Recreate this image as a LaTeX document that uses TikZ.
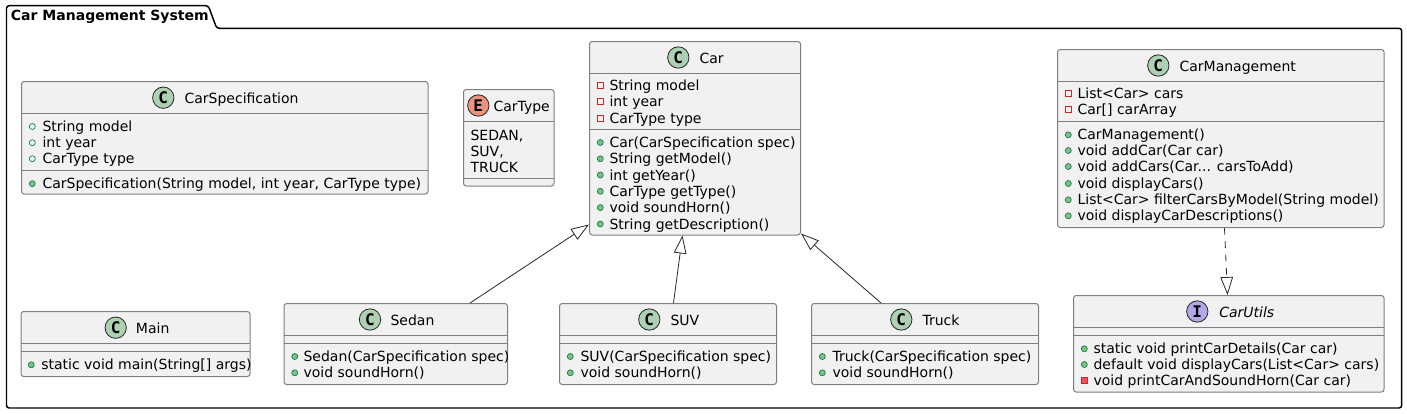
\documentclass[tikz,border=0pt]{standalone}
\usepackage{fontspec}
\setmainfont{DejaVu Sans}
\newfontfamily\iconfont{DejaVu Sans Mono}
\usetikzlibrary{
    arrows.meta,
    calc,
    fit,
    positioning
}
\definecolor{boxfill}{HTML}{F1F1F1}
\definecolor{boxline}{HTML}{7F7F7F}
\definecolor{iconc}{HTML}{ADD1B2}
\definecolor{icone}{HTML}{EB937F}
\definecolor{iconi}{HTML}{B4A7E5}
\definecolor{pubfill}{HTML}{84BE84}
\definecolor{publine}{HTML}{038048}
\definecolor{privfill}{HTML}{F24D5C}
\definecolor{privline}{HTML}{C82930}
\tikzset{
    classbox/.style={draw=boxline, fill=boxfill, line width=.75pt, rounded corners=2pt, inner sep=0pt},
    rowline/.style={draw=boxline, line width=.75pt},
    icon/.style={circle, draw=black!85, line width=.6pt, minimum size=16pt, inner sep=0pt, font=\iconfont\bfseries\fontsize{12}{12}\selectfont},
    title/.style={anchor=base west, inner sep=0pt, font=\fontsize{10.5}{12}\selectfont},
    row/.style={anchor=base west, inner sep=0pt, font=\fontsize{10.5}{12}\selectfont},
    pubf/.style={circle, draw=publine, line width=.5pt, minimum size=4.5pt, inner sep=0pt},
    pubm/.style={circle, draw=publine, fill=pubfill, line width=.5pt, minimum size=4.5pt, inner sep=0pt},
    privf/.style={rectangle, draw=privline, line width=.5pt, minimum size=4.5pt, inner sep=0pt},
    privm/.style={rectangle, draw=privline, fill=privfill, line width=.5pt, minimum size=4.5pt, inner sep=0pt},
    none/.style={inner sep=0pt, minimum size=0pt},
    gen/.style={draw=black!85, line width=.6pt, -{Triangle[length=13.5pt, width=9.5pt, fill=white]}},
    impl/.style={gen, dash pattern=on 5pt off 5pt}
}
\begin{document}
\begin{tikzpicture}[x=.75pt, y=-.75pt]
    \useasboundingbox (0, 0) rectangle (1407, 414);
    \draw[line width=1.1pt, rounded corners=2pt]
    (6.5, 408) -- (6.5, 5.7) -- (208.3, 5.7) -- (216.7, 28.3) -- (1401.7, 28.3) -- (1401.7, 408) -- cycle;
    \node[anchor=base west, inner sep=0pt, font=\bfseries\fontsize{10.5}{12}\selectfont] (pkgname) at (10.7, 21) {Car Management System};

    \foreach \nm/\xa/\ya/\xb/\yb/\la/\lb in {
        spec/21.5/81.5/428/194/113.5/170.5,
        type/463.5/89.5/554/186/121.5/178,
        car/589.5/41.5/800.5/235/73.5/129.5,
        mgmt/1057.5/49.5/1384/227.5/81.5/121.5,
        utils/1073.5/295.5/1384/392/327.5/335.5,
        main/21/311.5/250/376.5/343.5/351.5,
        sedan/284/303.5/507.5/384.5/335.5/343.5,
        suv/559.5/303.5/776.5/384.5/335.5/343.5,
        truck/811.5/303.5/1038.5/384.5/335.5/343.5
    } {
        \node[classbox, fit={(\xa, \ya) (\xb, \yb)}] (\nm) {};
        \draw[rowline] (\xa, \la) -- (\xb, \la) (\xa, \lb) -- (\xb, \lb);
    }

    \foreach \nm/\ix/\tx/\yy/\col/\ltr/\txt in {
        spec/163.3/184.3/97.7/iconc/C/CarSpecification,
        type/478.3/493.3/105.5/icone/E/CarType,
        car/678.3/699.3/57.5/iconc/C/Car,
        mgmt/1158.3/1179.3/65.5/iconc/C/CarManagement,
        main/115.7/135.7/327.7/iconc/C/Main,
        sedan/370/390.3/319.5/iconc/C/Sedan,
        suv/649.3/670.3/319.5/iconc/C/SUV,
        truck/901.3/922.3/319.5/iconc/C/Truck
    } {
        \node[icon, fill=\col] (\nm icon) at (\ix, \yy) {\ltr};
        \node[title] (\nm title) at (\tx, \yy+5.5) {\txt};
    }
    \node[icon, fill=iconi] (utilsicon) at (1197.3, 311.5) {I};
    \node[title] (utilstitle) at (1219, 317) {\itshape CarUtils};

    \foreach \nm/\yy/\txt in {
        typea/140/{SEDAN,},
        typeb/156/{SUV,},
        typec/172/TRUCK
    } {
        \node[row] (\nm) at (470.3, \yy) {\txt};
    }

    \foreach \nm/\ix/\tx/\yy/\vis/\txt in {
        speca/32.3/42.3/131.5/pubf/{String model},
        specb/32.3/42.3/147.7/pubf/{int year},
        specc/32.3/42.3/163.7/pubf/{CarType type},
        specd/32.3/42.3/188.7/pubm/{CarSpecification(String model, int year, CarType type)},
        cara/600.3/609.3/90.5/privf/{String model},
        carb/600.3/609.3/106.8/privf/{int year},
        carc/600.3/609.3/123/privf/{CarType type},
        card/600.3/609.3/147.5/pubm/{Car(CarSpecification spec)},
        care/600.3/609.3/163.8/pubm/{String getModel()},
        carf/600.3/609.3/180/pubm/{int getYear()},
        carg/600.3/609.3/196.3/pubm/{CarType getType()},
        carh/600.3/609.3/212.6/pubm/{void soundHorn()},
        cari/600.3/609.3/229/pubm/{String getDescription()},
        mgmta/1068.3/1077.3/98.5/privf/{List<Car> cars},
        mgmtb/1068.3/1077.3/114.8/privf/{Car[] carArray},
        mgmtc/1068.3/1077.3/139.8/pubm/{CarManagement()},
        mgmtd/1068.3/1077.3/155.5/pubm/{void addCar(Car car)},
        mgmte/1068.3/1077.3/171.5/pubm/{void addCars(Car... carsToAdd)},
        mgmtf/1068.3/1077.3/188.5/pubm/{void displayCars()},
        mgmtg/1068.3/1077.3/204.8/pubm/{List<Car> filterCarsByModel(String model)},
        mgmth/1068.3/1077.3/220.8/pubm/{void displayCarDescriptions()},
        utilsa/1084.3/1093.3/353.8/pubm/{static void printCarDetails(Car car)},
        utilsb/1084.3/1093.3/369.5/pubm/{default void displayCars(List<Car> cars)},
        utilsc/1084.3/1093.3/385.5/privm/{void printCarAndSoundHorn(Car car)},
        maina/31.3/41/369.8/pubm/{static void main(String[] args)},
        sedana/294.7/303.3/361.5/pubm/{Sedan(CarSpecification spec)},
        sedanb/294.7/303.3/377.8/pubm/{void soundHorn()},
        suva/570.3/580.3/361.5/pubm/{SUV(CarSpecification spec)},
        suvb/570.3/580.3/377.8/pubm/{void soundHorn()},
        trucka/822.3/832.3/361.5/pubm/{Truck(CarSpecification spec)},
        truckb/822.3/832.3/377.8/pubm/{void soundHorn()}
    } {
        \node[\vis] (\nm vis) at (\ix, \yy-5) {};
        \node[row] (\nm) at (\tx, \yy) {\txt};
    }

    \draw[gen] ($(sedan.north)+(74.25, 0)$) -- ($(car.south west)+(0, -11)$);
    \draw[gen] ($(suv.north)+(5.5, 0)$) -- ($(car.south)+(-12.5, 0)$);
    \draw[gen] ($(truck.north)+(-44, 0)$) -- ($(car.south east)+(0, -2)$);
    \draw[impl] ($(mgmt.south)+(3.75, 0)$) -- ($(utils.north)+(-1.25, 0)$);
\end{tikzpicture}
\end{document}
